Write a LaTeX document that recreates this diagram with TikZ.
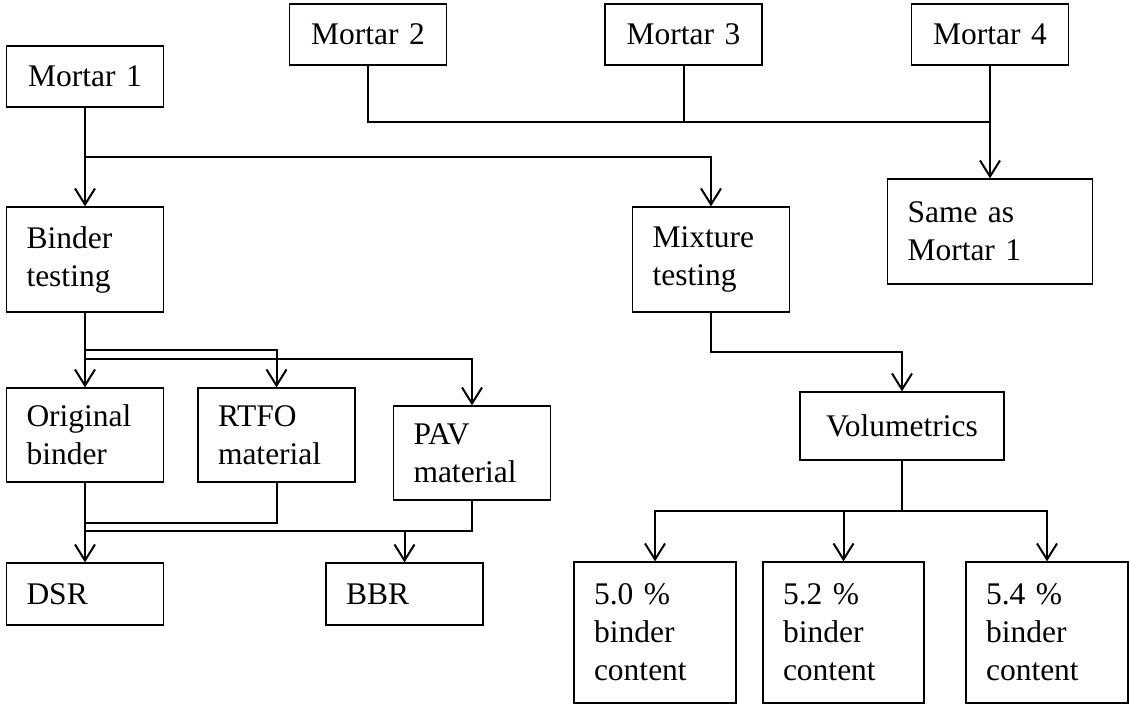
\documentclass[tikz,border=0pt]{standalone}
\usepackage{fontspec}
\setmainfont{Liberation Serif}
\usetikzlibrary{arrows.meta}

\tikzset{
  box/.style={draw, line width=1.3pt, inner xsep=20pt, inner ysep=0pt, align=left,
    text width=#1, font=\fontsize{31.5}{38}\selectfont},
  box/.default=117pt,
  conn/.style={line width=2pt},
  arr/.style={conn, -{Straight Barb[length=16pt,width=20pt]}}
}

\begin{document}
\begin{tikzpicture}[x=1pt,y=-1pt]
  \useasboundingbox (0,0) rectangle (1129,704);
  % mortars
  \node[box, align=center, minimum height=61pt] (m1) at (85,76.5) {Mortar 1};
  \node[box, align=center, minimum height=61pt] (m2) at (368,34.5) {Mortar 2};
  \node[box, align=center, minimum height=61pt] (m3) at (683.5,34.5) {Mortar 3};
  \node[box, align=center, minimum height=61pt] (m4) at (990,34.5) {Mortar 4};
  \node[box=165pt, minimum height=105pt] (same) at (990,231.5) {Same as\\Mortar 1};
  % testing
  \node[box, minimum height=105pt] (binder) at (85,259.5) {Binder\\testing};
  \node[box, minimum height=105pt] (mix) at (711,259.5) {Mixture\\testing};
  % binder branch
  \node[box, minimum height=94pt] (orig) at (85,435) {Original\\binder};
  \node[box, minimum height=94pt] (rtfo) at (276.5,435) {RTFO\\material};
  \node[box, minimum height=94pt] (pav) at (472,453) {PAV\\material};
  \node[box, minimum height=62pt] (dsr) at (85,594) {DSR};
  \node[box, minimum height=62pt] (bbr) at (404.5,594) {BBR};
  % mixture branch
  \node[box=164pt, align=center, minimum height=68pt] (vol) at (902,426) {Volumetrics};
  \node[box=122pt, minimum height=141pt] (c50) at (655,632.5) {5.0 \%\\binder\\content};
  \node[box=121pt, minimum height=141pt] (c52) at (843.5,632.5) {5.2 \%\\binder\\content};
  \node[box=122pt, minimum height=141pt] (c54) at (1047,632.5) {5.4 \%\\binder\\content};

  % junctions
  \coordinate (j1) at (85,157);
  \coordinate (j2) at (990,122);
  \coordinate (j3) at (85,350);
  \coordinate (j4) at (85,359);
  \coordinate (j5) at (85,523);
  \coordinate (j6) at (85,531);
  \coordinate (j7) at (711,352);
  \coordinate (j8) at (902,511);

  % connectors
  \draw[conn] (m1) -- (j1);
  \draw[arr] (j1) -- (binder);
  \draw[arr] (j1) -| (mix);
  \draw[conn] (m2) |- (j2);
  \draw[conn] (m3) -- (m3 |- j2);
  \draw[conn] (m4) -- (j2);
  \draw[arr] (j2) -- (same);
  \draw[conn] (binder) -- (j4);
  \draw[arr] (j4) -- (orig);
  \draw[arr] (j3) -| (rtfo);
  \draw[arr] (j4) -| (pav);
  \draw[conn] (orig) -- (j6);
  \draw[conn] (rtfo) |- (j5);
  \draw[conn] (pav) |- (j6);
  \draw[arr] (j6) -- (dsr);
  \draw[arr] (bbr |- j6) -- (bbr);
  \draw[arr] (mix) |- (j7) -| (vol);
  \draw[conn] (vol) -- (j8);
  \draw[arr] (j8) -| (c50);
  \draw[arr] (c52 |- j8) -- (c52);
  \draw[arr] (j8) -| (c54);
\end{tikzpicture}
\end{document}
